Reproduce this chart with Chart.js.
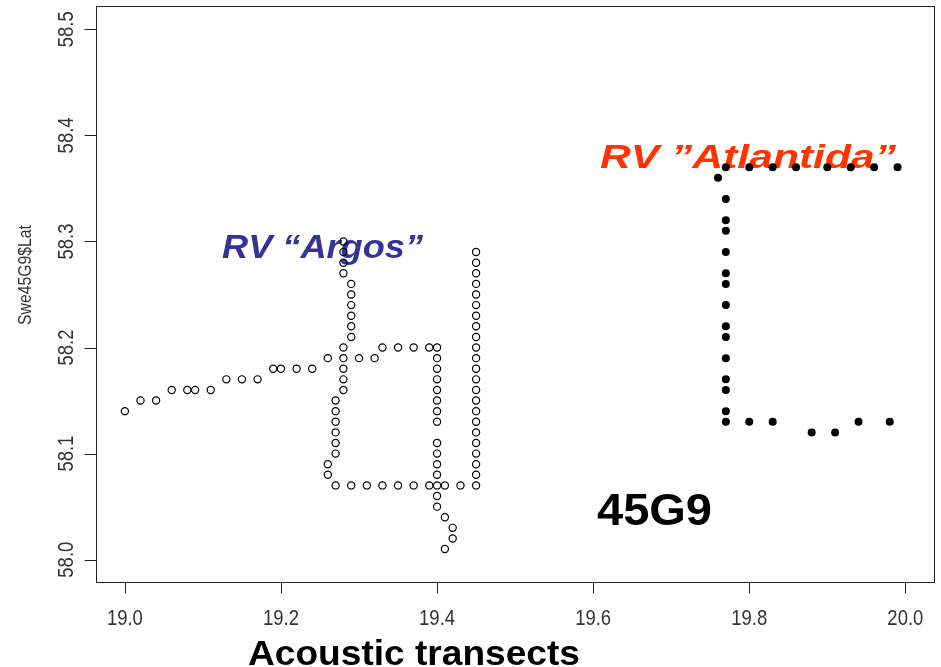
<!DOCTYPE html>
<html>
<head>
<meta charset="utf-8">
<script src="https://cdn.jsdelivr.net/npm/chart.js@4.4.0/dist/chart.umd.min.js"></script>
<style>
  html, body { margin: 0; padding: 0; background: #fff; }
  #wrap { width: 941px; height: 667px; }
</style>
</head>
<body>
<div id="wrap"><canvas id="transects" width="941" height="667"></canvas></div>
<script>
// RV "Argos" positions (open circles)
var argosLon = [19.00, 19.02, 19.04, 19.06, 19.08, 19.09, 19.11, 19.13, 19.15, 19.17,
    19.19, 19.20, 19.22, 19.24, 19.26,
    19.28, 19.28, 19.28, 19.28,
    19.29, 19.29, 19.29, 19.29, 19.29, 19.29,
    19.28, 19.28, 19.28, 19.28, 19.28,
    19.27, 19.27, 19.27, 19.27, 19.27, 19.27,
    19.26, 19.26,
    19.27, 19.29, 19.31, 19.33, 19.35, 19.37, 19.39, 19.40, 19.41, 19.43,
    19.30, 19.32,
    19.33, 19.35, 19.37, 19.39, 19.40,
    19.40, 19.40, 19.40, 19.40, 19.40, 19.40, 19.40,
    19.40, 19.40, 19.40, 19.40, 19.40, 19.40,
    19.41, 19.42, 19.42, 19.41,
    19.45, 19.45, 19.45, 19.45, 19.45, 19.45, 19.45, 19.45, 19.45, 19.45, 19.45, 19.45,
    19.45, 19.45, 19.45, 19.45, 19.45, 19.45, 19.45, 19.45, 19.45, 19.45, 19.45];
var argosLat = [58.14, 58.15, 58.15, 58.16, 58.16, 58.16, 58.16, 58.17, 58.17, 58.17,
    58.18, 58.18, 58.18, 58.18, 58.19,
    58.30, 58.29, 58.28, 58.27,
    58.26, 58.25, 58.24, 58.23, 58.22, 58.21,
    58.20, 58.19, 58.18, 58.17, 58.16,
    58.15, 58.14, 58.13, 58.12, 58.11, 58.10,
    58.09, 58.08,
    58.07, 58.07, 58.07, 58.07, 58.07, 58.07, 58.07, 58.07, 58.07, 58.07,
    58.19, 58.19,
    58.20, 58.20, 58.20, 58.20, 58.20,
    58.19, 58.18, 58.17, 58.16, 58.15, 58.14, 58.13,
    58.11, 58.10, 58.09, 58.08, 58.06, 58.05,
    58.04, 58.03, 58.02, 58.01,
    58.29, 58.28, 58.27, 58.26, 58.25, 58.24, 58.23, 58.22, 58.21, 58.20, 58.19, 58.18,
    58.17, 58.16, 58.15, 58.14, 58.13, 58.12, 58.11, 58.10, 58.09, 58.08, 58.07];

// RV "Atlantida" positions (filled dots)
var atlantidaLon = [19.77, 19.80, 19.83, 19.86, 19.90, 19.93, 19.96, 19.99,
    19.76,
    19.77, 19.77, 19.77, 19.77, 19.77, 19.77, 19.77, 19.77, 19.77, 19.77, 19.77, 19.77, 19.77, 19.77,
    19.80, 19.83, 19.94, 19.98,
    19.88, 19.91];
var atlantidaLat = [58.37, 58.37, 58.37, 58.37, 58.37, 58.37, 58.37, 58.37,
    58.36,
    58.34, 58.32, 58.31, 58.29, 58.27, 58.26, 58.24, 58.22, 58.21, 58.19, 58.17, 58.16, 58.14, 58.13,
    58.13, 58.13, 58.13, 58.13,
    58.12, 58.12];

var xTicks = [19.0, 19.2, 19.4, 19.6, 19.8, 20.0];
var yTicks = [58.0, 58.1, 58.2, 58.3, 58.4, 58.5];

function toPoints(lon, lat) {
    return lon.map(function (v, i) { return { x: v, y: lat[i] }; });
}

// text squeezed/stretched along its own direction to a given length
function fitText(ctx, text, font, color, x, y, len, align, rot) {
    ctx.save();
    ctx.font = font;
    ctx.fillStyle = color;
    ctx.textBaseline = 'alphabetic';
    var w = ctx.measureText(text).width;
    ctx.translate(x, y);
    if (rot) ctx.rotate(rot);
    ctx.scale(len / w, 1);
    ctx.textAlign = align || 'left';
    ctx.fillText(text, 0, 0);
    ctx.restore();
}

var labelsPlugin = {
    id: 'labels',
    beforeDatasetsDraw: function (chart) {
        var ctx = chart.ctx;
        fitText(ctx, 'RV \u201CArgos\u201D', 'italic bold 34px "Liberation Sans", Arial',
            '#333399', 222, 258, 201);
        fitText(ctx, 'RV \u201DAtlantida\u201D', 'italic bold 34px "Liberation Sans", Arial',
            '#ff3300', 600, 168, 296);
    },
    afterDraw: function (chart) {
        var ctx = chart.ctx;
        var a = chart.chartArea;
        var xs = chart.scales.x, ys = chart.scales.y;
        var L = Math.round(a.left) + 0.5, T = Math.round(a.top) + 0.5;
        var R = Math.round(a.right) - 0.5, B = Math.round(a.bottom) - 0.5;
        ctx.save();
        ctx.strokeStyle = '#222';
        ctx.lineWidth = 1;
        ctx.strokeRect(L, T, R - L, B - T);
        ctx.beginPath();
        xTicks.forEach(function (v) {
            var px = Math.round(xs.getPixelForValue(v)) + 0.5;
            ctx.moveTo(px, B);
            ctx.lineTo(px, B + 11);
        });
        yTicks.forEach(function (v) {
            var py = Math.round(ys.getPixelForValue(v)) + 0.5;
            ctx.moveTo(L - 12, py);
            ctx.lineTo(L, py);
        });
        ctx.stroke();
        ctx.restore();

        xTicks.forEach(function (v) {
            fitText(ctx, v.toFixed(1), '22px "Liberation Sans", Arial', '#333',
                xs.getPixelForValue(v), 625, 36, 'center');
        });
        yTicks.forEach(function (v) {
            fitText(ctx, v.toFixed(1), '22px "Liberation Sans", Arial', '#333',
                73, ys.getPixelForValue(v), 36, 'center', -Math.PI / 2);
        });
        fitText(ctx, 'Swe45G9$Lat', '19px "Liberation Sans", Arial', '#333',
            31, 275, 100, 'center', -Math.PI / 2);
        fitText(ctx, '45G9', 'bold 45px "Liberation Sans", Arial', '#000', 597, 525, 115);
        fitText(ctx, 'Acoustic transects', 'bold 35px "Liberation Sans", Arial', '#000',
            248, 665, 332);
    }
};

var ctx = document.getElementById('transects').getContext('2d');
var myChart = new Chart(ctx, {
    type: 'scatter',
    data: {
        datasets: [{
            label: 'Argos',
            data: toPoints(argosLon, argosLat),
            pointStyle: 'circle',
            pointRadius: 3.6,
            pointBorderWidth: 1.2,
            pointBorderColor: '#000',
            pointBackgroundColor: 'rgba(0,0,0,0)'
        }, {
            label: 'Atlantida',
            data: toPoints(atlantidaLon, atlantidaLat),
            pointStyle: 'circle',
            pointRadius: 4,
            pointBorderWidth: 0,
            pointBackgroundColor: '#000'
        }]
    },
    options: {
        responsive: false,
        animation: false,
        layout: { padding: { top: 6, right: 6, left: 0, bottom: 0 } },
        plugins: { legend: { display: false }, tooltip: { enabled: false } },
        scales: {
            x: {
                type: 'linear',
                min: 18.963,
                max: 20.038,
                afterBuildTicks: function (s) { s.ticks = xTicks.map(function (v) { return { value: v }; }); },
                afterFit: function (s) { s.height = 84; },
                ticks: { display: false },
                grid: { display: false },
                border: { display: false }
            },
            y: {
                type: 'linear',
                min: 57.978,
                max: 58.522,
                afterBuildTicks: function (s) { s.ticks = yTicks.map(function (v) { return { value: v }; }); },
                afterFit: function (s) { s.width = 96; },
                ticks: { display: false },
                grid: { display: false },
                border: { display: false }
            }
        }
    },
    plugins: [labelsPlugin]
});
</script>
</body>
</html>
